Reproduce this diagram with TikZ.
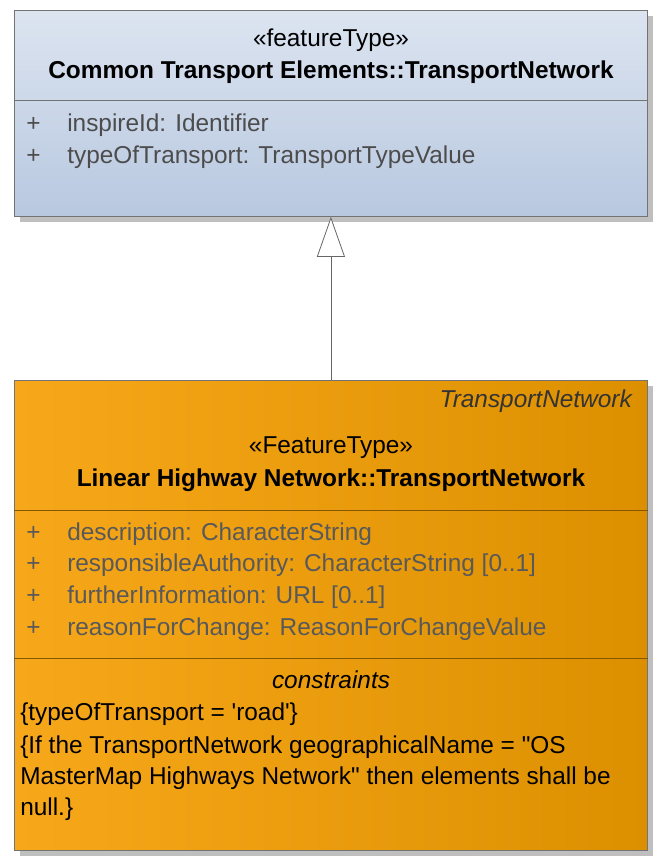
\documentclass[tikz,border=0pt]{standalone}
\usepackage{fontspec}
\setmainfont{Liberation Sans}
\usetikzlibrary{arrows.meta,shadows}
\definecolor{netlight}{HTML}{DCE4F0}
\definecolor{netdark}{HTML}{B8C8E0}
\definecolor{roadlight}{HTML}{F7A81A}
\definecolor{roaddark}{HTML}{DC9000}
\tikzset{
  umlbox/.style = {draw=black!55, line width=0.6pt, anchor=north west, inner sep=0pt,
                   drop shadow={shadow xshift=4pt, shadow yshift=-4pt, fill=black!25, opacity=1}},
  attr/.style   = {anchor=base west, inner sep=0pt, font=\fontsize{18.3}{22}\selectfont},
  title/.style  = {anchor=base, inner sep=0pt, font=\fontsize{18.3}{22}\selectfont}
}
\begin{document}
\begin{tikzpicture}[x=0.75pt, y=-0.75pt]
  \useasboundingbox (0,0) rectangle (658,864);
  % boxes
  \node[umlbox, top color=netlight, bottom color=netdark,
        minimum width=633*0.75pt, minimum height=206*0.75pt] (base) at (14,10) {};
  \node[umlbox, left color=roadlight, right color=roaddark,
        minimum width=633*0.75pt, minimum height=470*0.75pt] (road) at (14,380) {};
  \coordinate (baseline) at (14,100);
  \coordinate (attrline) at (14,510);
  \coordinate (consline) at (14,658);
  \draw[black!55, line width=0.6pt] (baseline) -- (baseline -| base.east);
  \draw[roaddark!60!black, line width=0.6pt] (attrline) -- (attrline -| road.east);
  \draw[roaddark!60!black, line width=0.6pt] (consline) -- (consline -| road.east);
  % generalization
  \draw[black!60, line width=0.6pt, -{Triangle[open, length=30pt, width=21pt, fill=white]}]
    (road.north) -- (base.south);
  % texts of the network box
  \node[title] at (331,46) {«featureType»};
  \node[title, font=\fontsize{18.3}{22}\selectfont\bfseries] at (331,78) {Common Transport Elements::TransportNetwork};
  \node[attr, black!70] at (26,131) {+};
  \node[attr, black!70] at (67,131) {inspireId: Identifier};
  \node[attr, black!70] at (26,163) {+};
  \node[attr, black!70] at (67,163) {typeOfTransport: TransportTypeValue};
  % texts of the highway box
  \node[attr, anchor=base east, font=\fontsize{18.3}{22}\selectfont\itshape, black!80] at (632,407) {TransportNetwork};
  \node[title] at (331,453) {«FeatureType»};
  \node[title, font=\fontsize{18.3}{22}\selectfont\bfseries] at (331,486) {Linear Highway Network::TransportNetwork};
  \foreach \y/\t in {540/{description: CharacterString},
                     571/{responsibleAuthority: CharacterString [0..1]},
                     603/{furtherInformation: URL [0..1]},
                     635/{reasonForChange: ReasonForChangeValue}} {
    \node[attr, black!65] at (26,\y) {+};
    \node[attr, black!65] at (67,\y) {\t};
  }
  \node[title, font=\fontsize{18.3}{22}\selectfont\itshape] at (331,688) {constraints};
  \node[attr] at (20,720) {\{typeOfTransport = \textquotesingle road\textquotesingle\}};
  \node[attr] at (20,753) {\{If the TransportNetwork geographicalName = \textquotedbl OS};
  \node[attr] at (20,784) {MasterMap Highways Network\textquotedbl{} then elements shall be};
  \node[attr] at (20,815) {null.\}};
\end{tikzpicture}
\end{document}
